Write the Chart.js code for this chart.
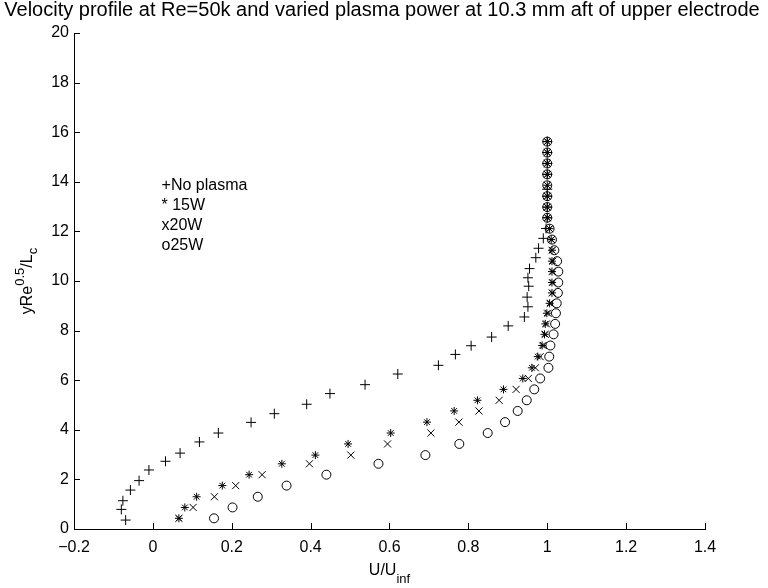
<!DOCTYPE html>
<html>
<head>
<meta charset="utf-8">
<script src="https://cdn.jsdelivr.net/npm/chart.js@4.4.1/dist/chart.umd.min.js"></script>
<style>
  html, body { margin: 0; padding: 0; background: #fff; }
  #wrap { width: 768px; height: 588px; }
</style>
</head>
<body>
<div id="wrap"><canvas id="profile" width="768" height="588"></canvas></div>
<script>
// ── DATA ──
const titleText = 'Velocity profile at Re=50k and varied plasma power at 10.3 mm aft of upper electrode';
const legendLines = ['+No plasma', '* 15W', 'x20W', 'o25W'];

// no plasma (+)
const yNoPlasma = [0.36, 0.79, 1.14, 1.57, 1.95, 2.38, 2.73, 3.06, 3.51, 3.87, 4.30, 4.65, 5.03, 5.46,
  5.82, 6.25, 6.60, 7.04, 7.39, 7.74, 8.19, 8.55, 8.96, 9.35, 9.79, 10.13, 10.50, 10.94, 11.32, 11.72,
  12.12, 12.55, 12.98, 13.42, 13.70, 14.30, 14.74, 15.18, 15.62];
const uNoPlasma = [-0.069, -0.080, -0.076, -0.057, -0.035, -0.010, 0.032, 0.069, 0.118, 0.166, 0.249, 0.308, 0.390, 0.449,
  0.538, 0.621, 0.724, 0.767, 0.807, 0.859, 0.901, 0.942, 0.951, 0.949, 0.953, 0.951, 0.955, 0.971, 0.978, 0.990,
  0.997, 1.000, 1.000, 1.000, 1.000, 1.000, 1.000, 1.000, 1.000];

// shared heights for the plasma-on runs
const yPlasma = [0.43, 0.87, 1.30, 1.75, 2.19, 2.63, 2.98, 3.43, 3.87, 4.31, 4.76, 5.19, 5.63,
  6.07, 6.50, 6.95, 7.40, 7.85, 8.27, 8.70, 9.10, 9.52, 9.94, 10.38, 10.80, 11.24, 11.67, 12.11, 12.55,
  12.98, 13.42, 13.86, 14.30, 14.74, 15.18, 15.62];
const u15W = [0.066, 0.081, 0.111, 0.176, 0.244, 0.327, 0.412, 0.495, 0.603, 0.695, 0.764, 0.823, 0.889,
  0.938, 0.961, 0.976, 0.987, 0.993, 0.995, 0.999, 1.006, 1.012, 1.012, 1.012, 1.012, 1.012, 1.010, 1.006, 1.000,
  1.000, 1.000, 1.000, 1.000, 1.000, 1.000, 1.000];
const u20W = [0.066, 0.102, 0.156, 0.210, 0.277, 0.397, 0.502, 0.595, 0.705, 0.776, 0.827, 0.878, 0.921,
  0.952, 0.970, 0.982, 0.990, 0.995, 0.998, 1.002, 1.008, 1.013, 1.014, 1.014, 1.014, 1.013, 1.011, 1.006, 1.001,
  1.000, 1.000, 1.000, 1.000, 1.000, 1.000, 1.000];
const u25W = [0.155, 0.202, 0.266, 0.339, 0.440, 0.572, 0.691, 0.777, 0.849, 0.893, 0.925, 0.948, 0.967,
  0.982, 1.003, 1.005, 1.008, 1.016, 1.020, 1.022, 1.024, 1.027, 1.028, 1.028, 1.025, 1.018, 1.012, 1.006, 1.000,
  1.000, 1.000, 1.000, 1.000, 1.000, 1.000, 1.000];

const xTickMin = -0.2, xTickMax = 1.4, xTickStep = 0.2;
const yTickMin = 0, yTickMax = 20, yTickStep = 2;

const FONT = '"Liberation Sans", Arial, Helvetica, sans-serif';

const toPoints = (xs, ys) => xs.map((x, i) => ({ x: x, y: ys[i] }));

function series(label, xs, ys, style, radius) {
  return {
    label: label,
    data: toPoints(xs, ys),
    showLine: false,
    pointStyle: style,
    pointRadius: radius,
    pointHoverRadius: radius,
    borderColor: '#000',
    backgroundColor: 'rgba(0,0,0,0)',
    pointBorderWidth: 1
  };
}

// ── MATLAB-ish decorations: inward ticks, title, axis labels, text legend ──
const decor = {
  id: 'decor',
  afterDraw(chart) {
    const { ctx, chartArea, scales } = chart;
    const xs = scales.x, ys = scales.y;
    ctx.save();
    ctx.strokeStyle = '#000';
    ctx.lineWidth = 1;
    ctx.beginPath();
    xs.ticks.forEach(t => {
      const px = Math.round(xs.getPixelForValue(t.value)) + 0.5;
      ctx.moveTo(px, chartArea.bottom);
      ctx.lineTo(px, chartArea.bottom - 6);
    });
    ys.ticks.forEach(t => {
      const py = Math.round(ys.getPixelForValue(t.value)) + 0.5;
      ctx.moveTo(chartArea.left, py);
      ctx.lineTo(chartArea.left + 6, py);
    });
    ctx.stroke();

    ctx.fillStyle = '#000';
    // title
    ctx.font = '20px ' + FONT;
    ctx.textAlign = 'center';
    ctx.textBaseline = 'middle';
    ctx.fillText(titleText, 382, 10);

    // x label  U/U_inf
    ctx.textAlign = 'left';
    ctx.textBaseline = 'alphabetic';
    ctx.font = '16px ' + FONT;
    const main = 'U/U';
    const wMain = ctx.measureText(main).width;
    ctx.font = '13px ' + FONT;
    const wSub = ctx.measureText('inf').width;
    const x0 = (chartArea.left + chartArea.right) / 2 - (wMain + wSub) / 2;
    ctx.font = '16px ' + FONT;
    ctx.fillText(main, x0, 575);
    ctx.font = '13px ' + FONT;
    ctx.fillText('inf', x0 + wMain, 583);

    // y label  yRe^0.5/L_c (rotated)
    ctx.save();
    ctx.translate(32, (chartArea.top + chartArea.bottom) / 2);
    ctx.rotate(-Math.PI / 2);
    const parts = [['yRe', 16, 0], ['0.5', 13, -8], ['/L', 16, 0], ['c', 13, 5]];
    let total = 0;
    parts.forEach(p => { ctx.font = p[1] + 'px ' + FONT; total += ctx.measureText(p[0]).width; });
    let cx = -total / 2;
    parts.forEach(p => {
      ctx.font = p[1] + 'px ' + FONT;
      ctx.fillText(p[0], cx, p[2]);
      cx += ctx.measureText(p[0]).width;
    });
    ctx.restore();

    // legend as plain text placed in data units
    ctx.font = '16px ' + FONT;
    ctx.textBaseline = 'alphabetic';
    const lx = xs.getPixelForValue(0.022);
    const ly0 = ys.getPixelForValue(13.65);
    legendLines.forEach((s, i) => ctx.fillText(s, lx, ly0 + i * 19.7));
    ctx.restore();
  }
};

// ── CHART ──
const ctx = document.getElementById('profile').getContext('2d');
new Chart(ctx, {
  type: 'scatter',
  data: {
    datasets: [
      series('No plasma', uNoPlasma, yNoPlasma, 'cross', 5),
      series('15W', u15W, yPlasma, 'star', 4),
      series('20W', u20W, yPlasma, 'crossRot', 5),
      series('25W', u25W, yPlasma, 'circle', 4.5)
    ]
  },
  options: {
    responsive: false,
    animation: false,
    events: [],
    layout: { padding: { top: 33, right: 63, left: 0, bottom: 0 } },
    plugins: { legend: { display: false }, tooltip: { enabled: false }, title: { display: false } },
    scales: {
      x: {
        type: 'linear',
        min: xTickMin, max: xTickMax,
        afterFit: s => { s.height = 59; },
        grid: { display: false, drawTicks: false },
        border: { display: true, color: '#000', width: 1 },
        ticks: {
          stepSize: xTickStep,
          padding: 9,
          color: '#000',
          maxRotation: 0,
          font: { size: 16, family: FONT },
          callback: v => {
            const n = Math.round(v * 10) / 10;
            return (n < 0 ? '\u2212' : '') + String(Math.abs(n));
          }
        }
      },
      y: {
        type: 'linear',
        min: yTickMin, max: yTickMax,
        afterFit: s => { s.width = 74; },
        grid: { display: false, drawTicks: false },
        border: { display: true, color: '#000', width: 1 },
        ticks: {
          stepSize: yTickStep,
          padding: 5,
          color: '#000',
          font: { size: 16, family: FONT }
        }
      }
    }
  },
  plugins: [decor]
});
</script>
</body>
</html>
